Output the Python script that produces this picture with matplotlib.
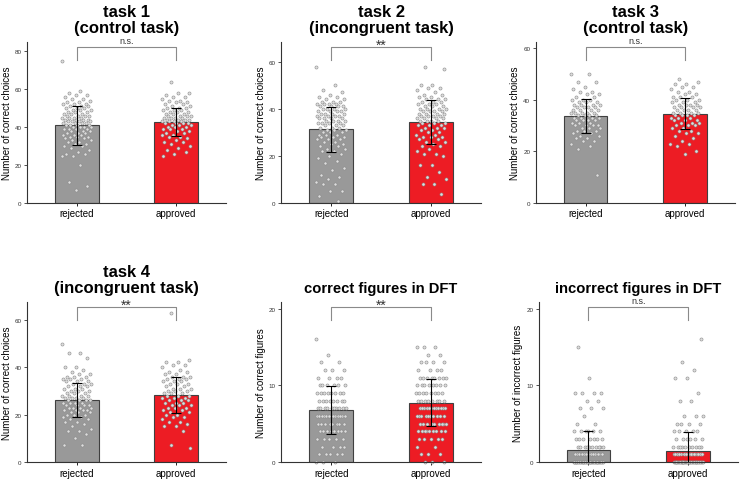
import numpy as np
import matplotlib
matplotlib.use("Agg")
from matplotlib import pyplot as plt

plt.rcParams['font.family'] = ['Liberation Sans', 'DejaVu Sans']

# ---- data ----
groups = ["rejected", "approved"]

titles = ["task 1\n(control task)", "task 2\n(incongruent task)", "task 3\n(control task)",
          "task 4\n(incongruent task)", "correct figures in DFT", "incorrect figures in DFT"]
ylabels = ["Number of correct choices"] * 4 + ["Number of correct figures", "Number of incorrect figures"]
signif = ["n.s.", "**", "n.s.", "**", "**", "n.s."]

means = [[41.0, 42.8], [31.3, 34.4], [33.8, 34.6], [26.2, 28.3], [6.8, 7.75], [1.55, 1.45]]
sds = [[10.4, 7.4], [9.6, 9.5], [6.6, 6.0], [7.3, 7.6], [3.1, 3.1], [2.45, 2.5]]

ylims = [85, 68.5, 62.4, 67.6, 20.9, 20.9]
yticks = [[0, 20, 40, 60, 80], [0, 20, 40, 60], [0, 20, 40, 60], [0, 20, 40, 60], [0, 10, 20], [0, 10, 20]]

t1_rej = [75, 59, 58, 57, 57, 56, 55, 55, 54, 53, 53, 52, 52, 52, 51, 51, 51, 50, 50, 50, 49, 49, 49,
          48, 48, 48, 47, 47, 47, 46, 46, 46, 46, 45, 45, 45, 45, 44, 44, 44, 44, 43, 43, 43, 43, 42,
          42, 42, 42, 41, 41, 41, 41, 40, 40, 40, 40, 39, 39, 39, 39, 38, 38, 38, 37, 37, 37, 36, 36,
          36, 35, 35, 35, 34, 34, 33, 33, 32, 32, 31, 31, 30, 30, 29, 28, 27, 26, 26, 25, 25, 20, 11, 9, 7]
t1_app = [64, 58, 58, 57, 56, 56, 55, 54, 54, 53, 53, 52, 52, 51, 51, 50, 50, 50, 49, 49, 49, 48, 48,
          48, 47, 47, 47, 46, 46, 46, 46, 45, 45, 45, 45, 44, 44, 44, 44, 43, 43, 43, 43, 42, 42, 42,
          42, 41, 41, 41, 40, 40, 40, 39, 39, 39, 38, 38, 37, 37, 36, 36, 35, 35, 34, 33, 32, 32, 31,
          30, 29, 28, 27, 26, 25]
t2_rej = [58, 50, 48, 47, 46, 45, 45, 44, 44, 43, 43, 43, 42, 42, 42, 42, 41, 41, 41, 41, 40, 40, 40,
          40, 39, 39, 39, 39, 38, 38, 38, 38, 37, 37, 37, 37, 36, 36, 36, 36, 35, 35, 35, 35, 34, 34,
          34, 34, 33, 33, 33, 32, 32, 32, 31, 31, 31, 30, 30, 30, 29, 29, 29, 28, 28, 28, 27, 27, 27,
          26, 26, 25, 25, 24, 24, 23, 23, 22, 22, 21, 20, 19, 18, 17, 15, 14, 12, 11, 10, 9, 8, 8, 5, 5, 3, 1]
t2_app = [58, 57, 50, 50, 49, 49, 48, 47, 46, 46, 45, 45, 44, 44, 44, 43, 43, 43, 42, 42, 42, 41, 41,
          41, 40, 40, 40, 40, 39, 39, 39, 39, 38, 38, 38, 38, 37, 37, 37, 37, 36, 36, 36, 36, 35, 35,
          35, 35, 34, 34, 34, 33, 33, 33, 32, 32, 32, 31, 31, 30, 30, 29, 29, 28, 28, 28, 27, 27, 26,
          26, 25, 24, 24, 23, 22, 21, 21, 20, 16, 16, 13, 11, 10, 8, 8, 4]
t3_rej = [50, 50, 47, 47, 45, 44, 43, 43, 42, 42, 41, 41, 40, 40, 40, 39, 39, 39, 38, 38, 38, 38, 37,
          37, 37, 37, 36, 36, 36, 36, 35, 35, 35, 35, 35, 34, 34, 34, 34, 33, 33, 33, 33, 32, 32, 32,
          32, 31, 31, 31, 30, 30, 30, 30, 29, 29, 29, 28, 28, 28, 27, 27, 26, 26, 25, 25, 24, 24, 23,
          22, 21, 11]
t3_app = [48, 47, 46, 46, 45, 45, 44, 43, 43, 42, 42, 41, 41, 41, 40, 40, 40, 39, 39, 39, 38, 38, 38,
          38, 37, 37, 37, 37, 36, 36, 36, 36, 35, 35, 35, 35, 34, 34, 34, 34, 33, 33, 33, 32, 32, 32,
          31, 31, 31, 30, 30, 30, 29, 29, 28, 28, 27, 27, 26, 25, 24, 23, 23, 22, 20, 19]
t4_rej = [50, 46, 46, 44, 40, 40, 39, 38, 37, 37, 36, 36, 36, 35, 35, 35, 34, 34, 34, 33, 33, 33, 32,
          32, 32, 31, 31, 31, 30, 30, 30, 29, 29, 29, 28, 28, 28, 28, 27, 27, 27, 27, 26, 26, 26, 26,
          25, 25, 25, 25, 24, 24, 24, 24, 23, 23, 23, 23, 22, 22, 22, 22, 21, 21, 21, 20, 20, 20, 19,
          19, 18, 18, 17, 17, 16, 15, 14, 13, 13, 12, 10, 7, 7]
t4_app = [63, 43, 42, 42, 41, 41, 40, 39, 38, 38, 37, 37, 36, 36, 36, 35, 35, 35, 34, 34, 34, 33, 33,
          33, 32, 32, 31, 31, 31, 30, 30, 30, 29, 29, 29, 28, 28, 28, 27, 27, 27, 26, 26, 26, 25, 25,
          25, 24, 24, 24, 23, 23, 23, 22, 22, 21, 21, 20, 20, 19, 19, 18, 17, 17, 16, 15, 15, 13, 7, 6]

# DFT scores: value -> number of participants
dft_values = list(range(17))
dft_corr_rej = [3, 5, 4, 5, 8, 8, 14, 10, 8, 8, 6, 4, 3, 2, 1, 0, 1]
dft_corr_app = [3, 3, 2, 5, 9, 9, 10, 12, 8, 8, 8, 8, 4, 4, 2, 3, 0]
dft_inc_rej = [35, 15, 10, 7, 6, 2, 1, 3, 2, 4, 0, 1, 0, 0, 0, 1, 0]
dft_inc_app = [35, 20, 10, 6, 5, 4, 3, 0, 2, 1, 0, 2, 1, 1, 0, 0, 1]

points = [
    [t1_rej, t1_app],
    [t2_rej, t2_app],
    [t3_rej, t3_app],
    [t4_rej, t4_app],
    [np.repeat(dft_values, dft_corr_rej), np.repeat(dft_values, dft_corr_app)],
    [np.repeat(dft_values, dft_inc_rej), np.repeat(dft_values, dft_inc_app)],
]

bar_colors = ["#999999", "#ed1c24"]

# axes boxes in figure fraction [left, bottom, width, height]
boxes = [
    [0.0365, 0.576, 0.269, 0.335], [0.380, 0.576, 0.270, 0.335], [0.724, 0.576, 0.269, 0.335],
    [0.0365, 0.0374, 0.269, 0.333], [0.380, 0.0374, 0.270, 0.333], [0.728, 0.0374, 0.269, 0.333],
]
title_sizes = [12, 12, 12, 12, 10.6, 10.6]

fig = plt.figure(figsize=(7.4, 4.81), dpi=100)
x = np.arange(len(groups))

for k in range(6):
    ax = fig.add_axes(boxes[k])
    ax.bar(x, means[k], width=0.44, color=bar_colors, edgecolor="#404040", linewidth=0.8, zorder=1)

    for g in range(2):
        vals = np.asarray(points[k][g], dtype=float)
        idx = np.arange(len(vals))
        # deterministic spread around the bar centre
        jit = ((idx * 0.6180339887 + 0.31 * g) % 1.0 - 0.5) * 0.30
        ax.scatter(x[g] + jit, vals, s=5, facecolor="#dddddd", edgecolor="#8a8a8a",
                   linewidth=0.4, zorder=2, clip_on=False)

    ax.errorbar(x, means[k], yerr=sds[k], fmt="none", ecolor="black", elinewidth=0.8,
                capsize=3.5, capthick=0.8, zorder=3)

    ylim = ylims[k]
    ax.set_xlim(-0.5, 1.5)
    ax.set_ylim(0, ylim)
    ax.set_yticks(yticks[k])
    ax.set_xticks(x)
    ax.set_xticklabels(groups, fontsize=7)
    ax.tick_params(axis="y", labelsize=4.5, length=2, width=0.6, pad=2, colors="#333333")
    ax.tick_params(axis="x", length=2, width=0.6, pad=2)
    ax.set_ylabel(ylabels[k], fontsize=7, labelpad=2)

    for side in ["top", "right"]:
        ax.spines[side].set_visible(False)
    for side in ["left", "bottom"]:
        ax.spines[side].set_linewidth(0.8)
        ax.spines[side].set_color("#333333")

    # significance bracket
    top = 0.97 * ylim
    leg = 0.885 * ylim
    ax.plot([x[0], x[0], x[1], x[1]], [leg, top, top, leg], color="#8a8a8a", lw=0.8,
            clip_on=False, zorder=4)
    if signif[k] == "**":
        ax.text((x[0] + x[1]) / 2, top - 0.03 * ylim, signif[k], ha="center", va="bottom",
                fontsize=10, color="#333333", clip_on=False)
    else:
        ax.text((x[0] + x[1]) / 2, top + 0.01 * ylim, signif[k], ha="center", va="bottom",
                fontsize=6.5, color="#333333", clip_on=False)

    ax.set_title(titles[k], fontsize=title_sizes[k], fontweight="bold", pad=7, linespacing=1.1)

fig.savefig("out.png", dpi=100)
